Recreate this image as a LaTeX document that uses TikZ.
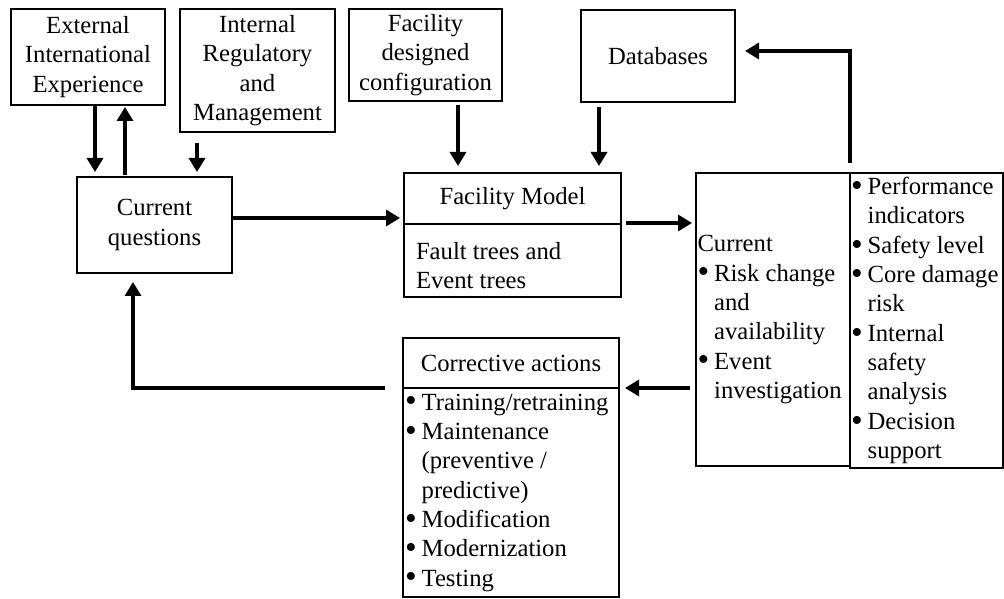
\documentclass[tikz,border=0pt]{standalone}
\usepackage{fontspec}
\setmainfont{Liberation Serif}
\usetikzlibrary{arrows.meta,calc}
\def\pxu{0.75pt}
\newcommand{\bl}{\makebox[12.5pt][l]{\raisebox{-0.08em}{\scalebox{1.35}{\textbullet}}}}
\newcommand{\bi}{\hspace*{12.5pt}}
\tikzset{
  box/.style={draw, line width=1.1pt, inner sep=0pt, outer sep=0pt, font=\fontsize{18.5}{22}\selectfont, align=center},
  txt/.style={inner sep=0pt, outer sep=0pt, font=\fontsize{18.5}{22}\selectfont, align=flush left},
  arr/.style={line width=2.5pt, -{Triangle[length=10.5pt,width=12pt]}}
}
\begin{document}
\begin{tikzpicture}[x=0.75pt,y=-0.75pt]
\useasboundingbox (0,0) rectangle (1004,599);
% top row
\node[box, minimum width=154*\pxu, minimum height=96*\pxu] (ext) at (88,57) {External\\International\\Experience};
\node[box, minimum width=155*\pxu, minimum height=123*\pxu] (intl) at (257.5,70.5) {Internal\\Regulatory\\and\\Management};
\node[box, minimum width=153*\pxu, minimum height=92*\pxu] (fdc) at (425.5,55) {Facility\\designed\\configuration};
\node[box, minimum width=154*\pxu, minimum height=92*\pxu] (db) at (658,56) {Databases};
% middle
\node[box, minimum width=155*\pxu, minimum height=96*\pxu] (cq) at (154.5,225) {Current\\questions};
\node[box, minimum width=217*\pxu, minimum height=51*\pxu] (fmtop) at (512.5,198.5) {Facility Model};
\node[box, minimum width=217*\pxu, minimum height=73*\pxu] (fmbot) at (512.5,260.5) {};
\node[txt, anchor=west] (fmtext) at ($(fmbot.west)+(12,5)$) {Fault trees and\\Event trees};
\node[box, align=flush left, text width=151*\pxu, inner xsep=1.5*\pxu, minimum width=154*\pxu, minimum height=293*\pxu] (cur) at (773,319.5)
  {Current\\\bl Risk change\\\bi and\\\bi availability\\\bl Event\\\bi investigation};
\node[box, align=flush left, text width=151*\pxu, inner xsep=1*\pxu, minimum width=153*\pxu, minimum height=295*\pxu] (ind) at (926.5,320.5)
  {\bl Performance\\\bi indicators\\\bl Safety level\\\bl Core damage\\\bi risk\\\bl Internal\\\bi safety\\\bi analysis\\\bl Decision\\\bi support};
% corrective
\node[box, minimum width=216*\pxu, minimum height=50*\pxu] (corrtop) at (511,363) {Corrective actions};
\node[box, align=flush left, text width=212*\pxu, inner xsep=2*\pxu, minimum width=216*\pxu, minimum height=209*\pxu] (corrbot) at (511,492.5)
  {\bl Training/retraining\\\bl Maintenance\\\bi (preventive /\\\bi predictive)\\\bl Modification\\\bl Modernization\\\bl Testing};
% connectors
\draw[arr] ($(ext.south west)+(84,0)$) -- ($(cq.north west)+(18,-5)$);
\draw[arr] ($(cq.north west)+(48,-2)$) -- ($(ext.south west)+(114,2)$);
\draw[arr] ($(intl.south west)+(17,11)$) -- ($(cq.north west)+(120,-5)$);
\draw[arr] ($(fdc.south west)+(109,4)$) -- ($(fmtop.north west)+(54,-7)$);
\draw[arr] ($(db.south west)+(18,5)$) -- ($(fmtop.north west)+(195,-7)$);
\draw[arr] ($(cq.north east)+(1,41)$) -- ($(fmtop.south west)+(-4,-6)$);
\draw[arr] ($(fmtop.south east)+(5,-1)$) -- ($(cur.north west)+(-4,50)$);
\draw[arr] ($(cur.south west)+(-6,-78)$) -- ($(corrtop.south east)+(6,0)$);
\draw[arr] ($(corrtop.south west)+(-18,0)$) -| ($(cq.south west)+(56,9)$);
\draw[arr] ($(ind.north west)+(0,-10)$) |- ($(db.east)+(10,-5)$);
\end{tikzpicture}
\end{document}
